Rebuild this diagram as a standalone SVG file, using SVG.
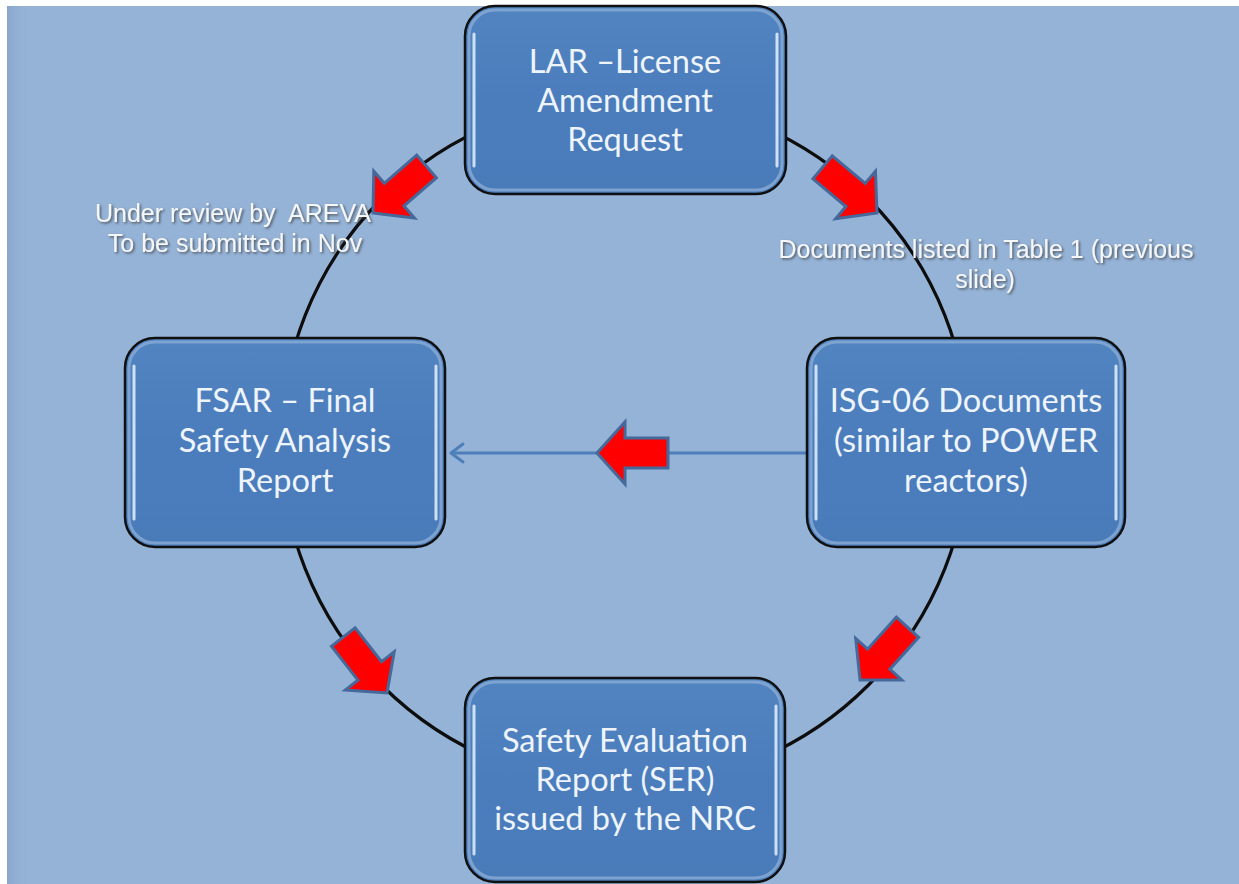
<svg xmlns="http://www.w3.org/2000/svg" width="1239" height="884" viewBox="0 0 1239 884">
  <defs>
    <style>
      .bg { fill: #95b3d7; }
      .ring { fill: none; stroke: #0d0d0d; stroke-width: 3.2; }
      .flow { fill: none; stroke: #4f7fb9; stroke-width: 3; }
      .box { fill: url(#boxFill); stroke: #101010; stroke-width: 2.5; }
      .rim { fill: none; stroke: #86a9d4; stroke-width: 3; opacity: 0.85; }
      .shine { fill: none; stroke: #dcebfa; stroke-width: 3; stroke-linecap: round; opacity: 0.9; }
      .ntext { font-family: Lato, "Open Sans", sans-serif; font-size: 32.5px; fill: #eef4fb; text-anchor: middle; }
      .label { font-family: "Liberation Sans", Arial, sans-serif; font-size: 25px; fill: #f4f6f8; text-anchor: middle; filter: url(#textShadow); }
      .bigarrow { fill: #ff0000; stroke: #45699a; stroke-width: 3; stroke-linejoin: miter; }
    </style>
    <linearGradient id="boxFill" x1="0" y1="0" x2="0" y2="1">
      <stop offset="0" stop-color="#5284c0"/>
      <stop offset="0.5" stop-color="#4b7dbd"/>
      <stop offset="1" stop-color="#4a7bb9"/>
    </linearGradient>
    <linearGradient id="edgeShade" x1="0" y1="0" x2="1" y2="0">
      <stop offset="0" stop-color="#8aa6cc"/>
      <stop offset="1" stop-color="#95b3d7" stop-opacity="0"/>
    </linearGradient>
    <filter id="textShadow" x="-10%" y="-30%" width="120%" height="160%">
      <feDropShadow dx="1.5" dy="1.5" stdDeviation="0.8" flood-color="#3a3a3a" flood-opacity="0.75"/>
    </filter>
    <!-- block arrow pointing along +x, tip at the origin -->
    <polygon id="blockArrow" class="bigarrow" points="0,0 -28,-31 -28,-15 -71,-15 -71,15 -28,15 -28,31"/>
  </defs>

  <!-- page -->
  <rect x="0" y="0" width="1239" height="884" fill="#ffffff"/>
  <rect class="bg" x="7" y="6" width="1232" height="878"/>
  <rect x="7" y="6" width="24" height="878" fill="url(#edgeShade)"/>

  <!-- connectors -->
  <g id="connectors">
    <circle class="ring" cx="625" cy="442" r="344"/>
    <line class="flow" x1="806" y1="453" x2="451" y2="453"/>
    <polyline class="flow" points="463,444 451,453 463,462" stroke-linejoin="round" stroke-linecap="round"/>
    <use href="#blockArrow" transform="translate(373,213) rotate(139)"/>
    <use href="#blockArrow" transform="translate(877,213) rotate(40)"/>
    <use href="#blockArrow" transform="translate(597,453) rotate(180)"/>
    <use href="#blockArrow" transform="translate(387,693) rotate(52)"/>
    <use href="#blockArrow" transform="translate(860,680) rotate(132)"/>
  </g>

  <!-- labels on the ring -->
  <g id="labels">
    <text class="label" x="233" y="222" xml:space="preserve">Under review by  AREVA</text>
    <text class="label" x="235" y="252">To be submitted in Nov</text>
    <text class="label" x="986" y="258">Documents listed in Table 1 (previous</text>
    <text class="label" x="985" y="288">slide)</text>
  </g>

  <!-- LAR -->
  <g id="node-lar">
    <rect class="box" x="465" y="6" width="321" height="188" rx="30"/>
    <rect class="rim" x="469" y="10" width="313" height="180" rx="26"/>
    <path class="shine" d="M474,34 V166 M777,34 V166"/>
    <text class="ntext" x="625" y="73">LAR –License</text>
    <text class="ntext" x="625" y="112">Amendment</text>
    <text class="ntext" x="625" y="151">Request</text>
  </g>

  <!-- FSAR -->
  <g id="node-fsar">
    <rect class="box" x="125" y="338" width="320" height="209" rx="30"/>
    <rect class="rim" x="129" y="342" width="312" height="201" rx="26"/>
    <path class="shine" d="M134,366 V519 M436,366 V519"/>
    <text class="ntext" x="285" y="412">FSAR – Final</text>
    <text class="ntext" x="285" y="452">Safety Analysis</text>
    <text class="ntext" x="285" y="492">Report</text>
  </g>

  <!-- ISG-06 -->
  <g id="node-isg">
    <rect class="box" x="807" y="338" width="318" height="209" rx="30"/>
    <rect class="rim" x="811" y="342" width="310" height="201" rx="26"/>
    <path class="shine" d="M816,366 V519 M1116,366 V519"/>
    <text class="ntext" x="966" y="412">ISG-06 Documents</text>
    <text class="ntext" x="966" y="452">(similar to POWER</text>
    <text class="ntext" x="966" y="492">reactors)</text>
  </g>

  <!-- SER -->
  <g id="node-ser">
    <rect class="box" x="465" y="678" width="320" height="204" rx="30"/>
    <rect class="rim" x="469" y="682" width="312" height="196" rx="26"/>
    <path class="shine" d="M474,706 V854 M776,706 V854"/>
    <text class="ntext" x="625" y="752">Safety Evaluation</text>
    <text class="ntext" x="625" y="791">Report (SER)</text>
    <text class="ntext" x="625" y="830">issued by the NRC</text>
  </g>
</svg>
